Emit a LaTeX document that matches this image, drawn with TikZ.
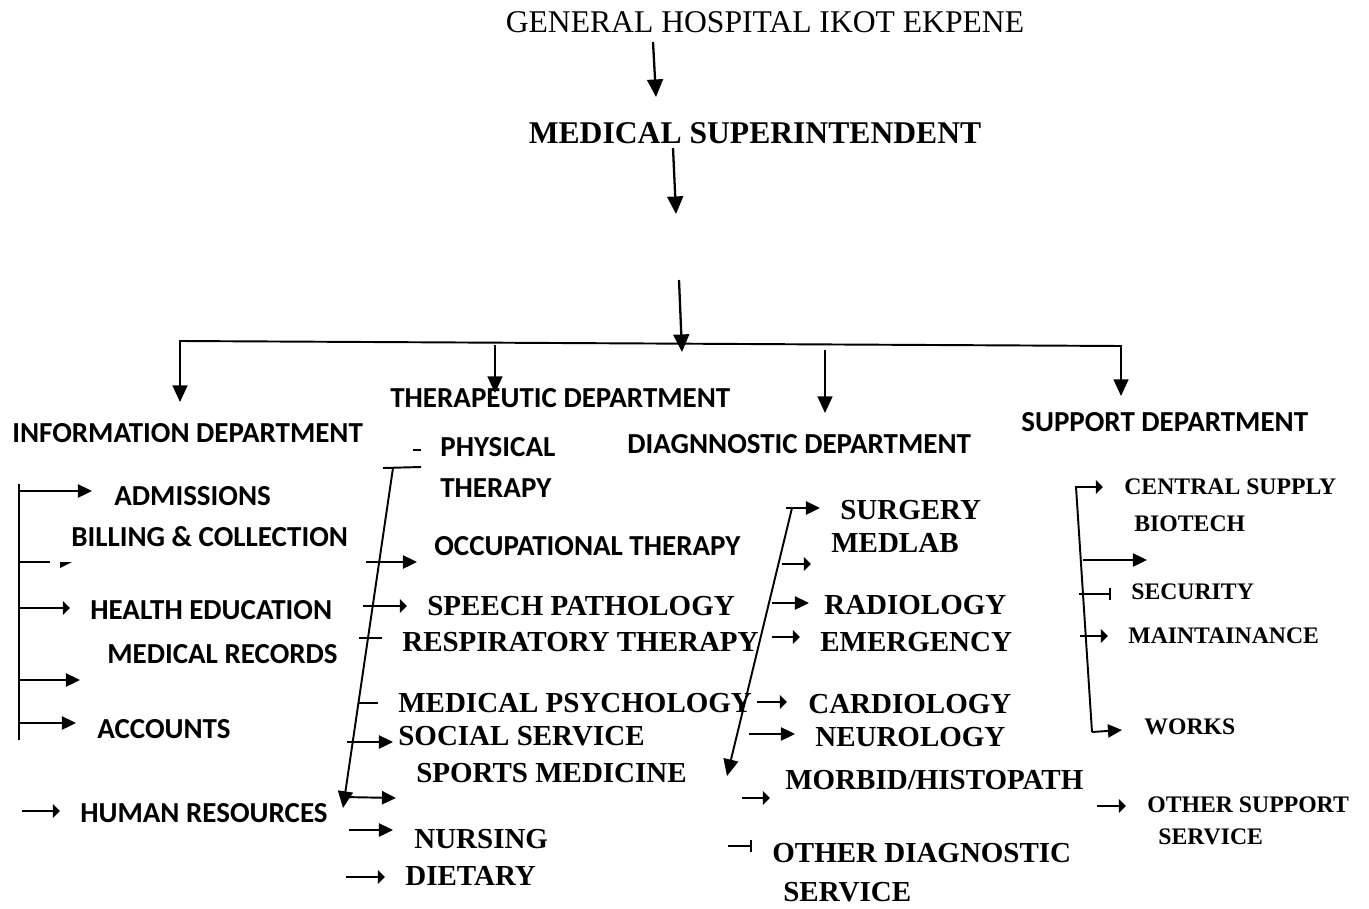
\documentclass[tikz,border=0pt]{standalone}
\usepackage{fontspec}
\setmainfont{Liberation Serif}
\newfontfamily\calfont{Carlito}
\usepackage{tikz}
\usetikzlibrary{arrows.meta}

\begin{document}
\begin{tikzpicture}[x=0.02cm, y=-0.02cm,
    conn/.style={line width=1.1pt},
    arr/.style={conn, -{Triangle[length=8pt, width=7.5pt]}},
    midarr/.style={conn, -{Triangle[length=9.5pt, width=8.5pt]}},
    bigarr/.style={line width=1.3pt, -{Triangle[length=10pt, width=9pt]}},
    stub/.style={conn, -{Triangle[length=4pt, width=7.5pt]}},
    tee/.style={conn, -{Bar[width=7pt]}},
    dept/.style={font=\calfont\bfseries\fontsize{16.5}{18}\selectfont, inner sep=0pt, anchor=west},
    seritem/.style={font=\bfseries\fontsize{16.5}{18}\selectfont, inner sep=0pt, anchor=west},
    suppitem/.style={font=\bfseries\fontsize{13.5}{15}\selectfont, inner sep=0pt, anchor=west}]
    \useasboundingbox (0,0) rectangle (1369,909);

    \node[font=\fontsize{18}{20}\selectfont, inner sep=0pt] (hosp) at (765,22) {GENERAL HOSPITAL IKOT EKPENE};
    \node[font=\bfseries\fontsize{18}{20}\selectfont, inner sep=0pt] (medsup) at (755,133) {MEDICAL SUPERINTENDENT};

    \node[dept] (info) at (12,433) {INFORMATION DEPARTMENT};
    \node[dept] (ther) at (390,398) {THERAPEUTIC DEPARTMENT};
    \node[dept] (diag) at (627,444) {DIAGNNOSTIC DEPARTMENT};
    \node[dept] (supp) at (1021,422) {SUPPORT DEPARTMENT};

    \node[dept] (adm) at (114,496) {ADMISSIONS};
    \node[dept] (bill) at (71,537) {BILLING \& COLLECTION};
    \node[dept] (hedu) at (90,610) {HEALTH EDUCATION};
    \node[dept] (mrec) at (107,654) {MEDICAL RECORDS};
    \node[dept] (acct) at (97,729) {ACCOUNTS};
    \node[dept] (hres) at (80,813) {HUMAN RESOURCES};

    \node[dept] (phys) at (440,447) {PHYSICAL};
    \node[dept] (physb) at (440,488) {THERAPY};
    \node[dept] (occ) at (434,546) {OCCUPATIONAL THERAPY};
    \node[seritem] (speech) at (427,606) {SPEECH PATHOLOGY};
    \node[seritem] (resp) at (402,642) {RESPIRATORY THERAPY};
    \node[seritem] (psych) at (398,703) {MEDICAL PSYCHOLOGY};
    \node[seritem] (social) at (398,736) {SOCIAL SERVICE};
    \node[seritem] (sport) at (416,773) {SPORTS MEDICINE};
    \node[seritem] (nurs) at (414,839) {NURSING};
    \node[seritem] (diet) at (405,876) {DIETARY};

    \node[seritem] (surg) at (840,510) {SURGERY};
    \node[seritem] (medlab) at (831,543) {MEDLAB};
    \node[seritem] (radio) at (824,605) {RADIOLOGY};
    \node[seritem] (emerg) at (820,642) {EMERGENCY};
    \node[seritem] (cardio) at (808,704) {CARDIOLOGY};
    \node[seritem] (neuro) at (815,737) {NEUROLOGY};
    \node[seritem] (morbid) at (785,780) {MORBID/HISTOPATH};
    \node[seritem] (odiag) at (772,853) {OTHER DIAGNOSTIC};
    \node[seritem] (odiagb) at (783,892) {SERVICE};

    \node[suppitem] (csup) at (1124,487) {CENTRAL SUPPLY};
    \node[suppitem] (biot) at (1134,524) {BIOTECH};
    \node[suppitem] (secu) at (1131,592) {SECURITY};
    \node[suppitem] (maint) at (1128,636) {MAINTAINANCE};
    \node[suppitem] (works) at (1144,727) {WORKS};
    \node[suppitem] (osup) at (1147,805) {OTHER SUPPORT};
    \node[suppitem] (osupb) at (1158,837) {SERVICE};

    \coordinate (t1) at (653,42);
    \coordinate (t2) at (656,97);
    \coordinate (t3) at (673,148);
    \coordinate (t4) at (676,214);
    \coordinate (t5) at (679,280);
    \coordinate (t6) at (682,352);
    \coordinate (busL) at (180,341);
    \coordinate (busR) at (1121,346);
    \coordinate (infoA) at (180,402);
    \coordinate (suppA) at (1121,396);
    \coordinate (therT) at (495,345);
    \coordinate (therA) at (495,393);
    \coordinate (diagT) at (825,350);
    \coordinate (diagA) at (825,413);

    \draw[bigarr] (t1) -- (t2);
    \draw[bigarr] (t3) -- (t4);
    \draw[bigarr] (t5) -- (t6);
    \draw[conn, {Triangle[length=9.5pt, width=8.5pt]}-{Triangle[length=9.5pt, width=8.5pt]}]
        (infoA) -- (busL) -- (busR) -- (suppA);
    \draw[midarr] (therT) -- (therA);
    \draw[midarr] (diagT) -- (diagA);

    \coordinate (iTop) at (19,484);
    \coordinate (iBot) at (19,740);
    \coordinate (i1) at (19,491);
    \coordinate (j1) at (92,491);
    \coordinate (i2) at (19,562);
    \coordinate (j2) at (50,562);
    \coordinate (i3) at (19,608);
    \coordinate (j3) at (70,608);
    \coordinate (i4) at (19,680);
    \coordinate (j4) at (80,680);
    \coordinate (i5) at (19,723);
    \coordinate (j5) at (76,723);
    \coordinate (hr1) at (22,811);
    \coordinate (hr2) at (60,811);

    \draw[conn] (iTop) -- (iBot);
    \draw[arr] (i1) -- (j1);
    \draw[conn] (i2) -- (j2);
    \fill (60,562) -- (72,562) -- (60,568) -- cycle;
    \draw[stub] (i3) -- (j3);
    \draw[arr] (i4) -- (j4);
    \draw[arr] (i5) -- (j5);
    \draw[stub] (hr1) -- (hr2);

    \coordinate (pd1) at (413,450);
    \coordinate (pd2) at (421,450);
    \coordinate (thL) at (383,468);
    \coordinate (thR) at (421,467);
    \coordinate (thTop) at (393,468);
    \coordinate (thTip) at (343,808);
    \coordinate (o1) at (366,562);
    \coordinate (o2) at (417,562);
    \coordinate (s1) at (363,606);
    \coordinate (s2) at (407,606);
    \coordinate (r1) at (359,638);
    \coordinate (r2) at (382,638);
    \coordinate (p1) at (358,703);
    \coordinate (p2) at (378,703);
    \coordinate (so1) at (347,742);
    \coordinate (so2) at (393,742);
    \coordinate (sm1) at (343,797);
    \coordinate (sm2) at (396,798);
    \coordinate (n1) at (349,830);
    \coordinate (n2) at (393,830);
    \coordinate (d1) at (346,877);
    \coordinate (d2) at (385,877);

    \draw[conn] (pd1) -- (pd2);
    \draw[conn] (thL) -- (thR);
    \draw[midarr] (thTop) -- (thTip);
    \draw[arr] (o1) -- (o2);
    \draw[stub] (s1) -- (s2);
    \draw[conn] (r1) -- (r2);
    \draw[conn] (p1) -- (p2);
    \draw[arr] (so1) -- (so2);
    \draw[arr] (sm1) -- (sm2);
    \draw[arr] (n1) -- (n2);
    \draw[stub] (d1) -- (d2);

    \coordinate (dgTop) at (792,508);
    \coordinate (dgTip) at (727,776);
    \coordinate (sg1) at (786,508);
    \coordinate (sg2) at (820,508);
    \coordinate (ml1) at (782,564);
    \coordinate (ml2) at (811,564);
    \coordinate (ra1) at (772,603);
    \coordinate (ra2) at (809,603);
    \coordinate (em1) at (772,637);
    \coordinate (em2) at (800,637);
    \coordinate (ca1) at (757,702);
    \coordinate (ca2) at (787,702);
    \coordinate (ne1) at (749,734);
    \coordinate (ne2) at (795,734);
    \coordinate (mo1) at (742,798);
    \coordinate (mo2) at (770,798);
    \coordinate (od1) at (728,846);
    \coordinate (od2) at (752,846);

    \draw[midarr] (dgTop) -- (dgTip);
    \draw[arr] (sg1) -- (sg2);
    \draw[stub] (ml1) -- (ml2);
    \draw[arr] (ra1) -- (ra2);
    \draw[stub] (em1) -- (em2);
    \draw[stub] (ca1) -- (ca2);
    \draw[arr] (ne1) -- (ne2);
    \draw[stub] (mo1) -- (mo2);
    \draw[tee] (od1) -- (od2);

    \coordinate (spTop) at (1076,487);
    \coordinate (spBot) at (1092,732);
    \coordinate (cs2) at (1103,487);
    \coordinate (bt1) at (1083,560);
    \coordinate (bt2) at (1147,560);
    \coordinate (se1) at (1079,594);
    \coordinate (se2) at (1111,594);
    \coordinate (ma1) at (1080,636);
    \coordinate (ma2) at (1108,636);
    \coordinate (wk2) at (1122,730);
    \coordinate (os1) at (1097,806);
    \coordinate (os2) at (1126,806);

    \draw[stub] (spBot) -- (spTop) -- (cs2);
    \draw[arr] (spBot) -- (wk2);
    \draw[arr] (bt1) -- (bt2);
    \draw[tee] (se1) -- (se2);
    \draw[stub] (ma1) -- (ma2);
    \draw[stub] (os1) -- (os2);
\end{tikzpicture}
\end{document}
